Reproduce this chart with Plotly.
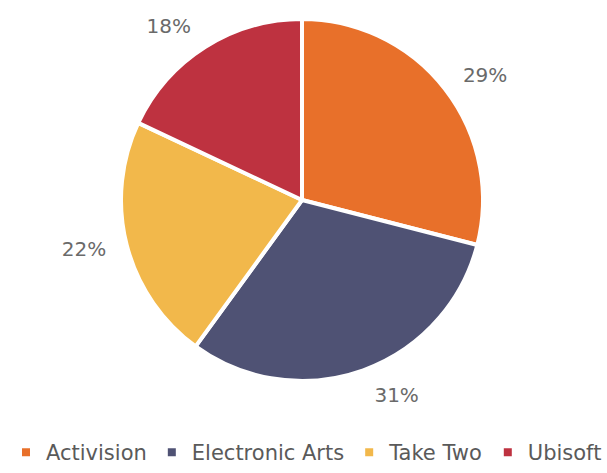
import plotly.graph_objects as go

companies = ["Activision", "Electronic Arts", "Take Two", "Ubisoft"]
shares = [29, 31, 22, 18]
colors = ["#E8702A", "#4F5274", "#F2B84B", "#BE3240"]

W, H = 607, 473
cx, cy = 302, 200
r = 181
rl = 196

def dom(cx, cy, r):
    return dict(x=[max(0, (cx - r) / W), min(1, (cx + r) / W)],
                y=[max(0, (H - cy - r) / H), min(1, (H - cy + r) / H)])

FONT = "DejaVu Sans, sans-serif"

fig = go.Figure()
fig.add_trace(go.Pie(
    labels=companies, values=shares, sort=False, direction="clockwise", rotation=0,
    marker=dict(colors=colors, line=dict(color="white", width=4)),
    textinfo="none", hoverinfo="label+percent", domain=dom(cx, cy, r),
    showlegend=True,
))
fig.add_trace(go.Pie(
    labels=companies, values=shares, sort=False, direction="clockwise", rotation=0,
    marker=dict(colors=["rgba(0,0,0,0)"] * 4, line=dict(width=0)),
    textinfo="percent", texttemplate="%{value}%", textposition="outside",
    outsidetextfont=dict(family=FONT, size=20, color="#6a6a6a"),
    hoverinfo="skip", domain=dom(cx, cy, rl), showlegend=False,
))
fig.update_layout(
    width=W, height=H, margin=dict(l=0, r=0, t=0, b=0),
    paper_bgcolor="white", plot_bgcolor="white",
    legend=dict(orientation="h", x=0.505, xanchor="center", y=0, yanchor="bottom",
                font=dict(family=FONT, size=21, color="#5a5a5a"),
                itemwidth=30, traceorder="normal"),
)
fig.write_html("out.html")
